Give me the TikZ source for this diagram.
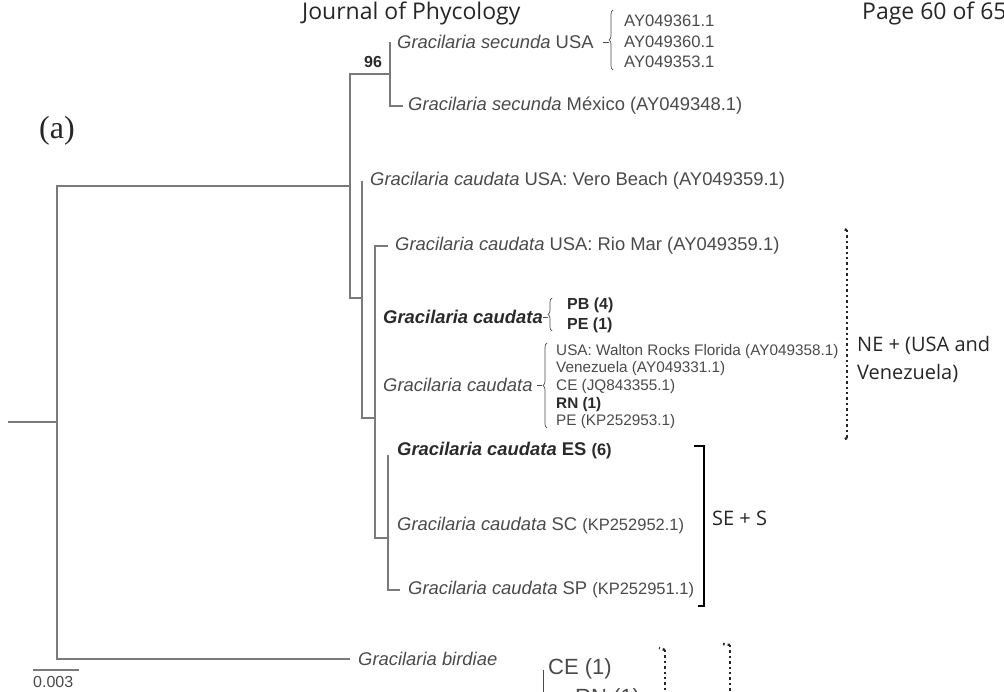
\documentclass[tikz,border=0pt]{standalone}
\usepackage{fontspec}
\setmainfont{Liberation Sans}
\newfontfamily\hdrfont{Open Sans}
\newfontfamily\serffont{Liberation Serif}
\usetikzlibrary{decorations.pathreplacing}
\definecolor{branch}{HTML}{7A7A7A}
\definecolor{labc}{HTML}{4A4A4A}
\definecolor{boldc}{HTML}{2A2A2A}
\begin{document}
\begin{tikzpicture}[x=1pt,y=-1pt,
  br/.style={draw=branch, line width=1.2pt},
  lab/.style={anchor=west, inner sep=0pt, text=labc, font=\fontsize{18.4}{20}\selectfont},
  acclab/.style={anchor=west, inner sep=0pt, text=labc, font=\fontsize{16.6}{18}\selectfont},
  smalllab/.style={anchor=west, inner sep=0pt, text=labc, font=\fontsize{15.3}{17}\selectfont},
  hdr/.style={anchor=base west, inner sep=0pt, text=black!85, font=\hdrfont\fontsize{23}{26}\selectfont},
  region/.style={anchor=west, inner sep=0pt, text=black!85, font=\hdrfont\fontsize{20}{28}\selectfont, align=left},
  brace/.style={draw=labc, line width=0.7pt, decorate, decoration={brace, amplitude=4pt}},
  dotb/.style={draw=black!85, line width=2.4pt, dash pattern=on 2.4pt off 3pt},
  solidb/.style={draw=black, line width=2pt}]
\useasboundingbox (0,0) rectangle (1004,692);
\clip (0,0) rectangle (1004,692);

% header
\node[hdr] (journal) at (302,20) {Journal of Phycology};
\node[hdr] (page) at (862,20) {Page 60 of 65};
\node[anchor=west, inner sep=0pt, font=\serffont\fontsize{32}{34}\selectfont, text=black!85] (pa) at (39,131) {(a)};

% internal nodes
\coordinate (stem) at (8,422);
\coordinate (root) at (57,422);
\coordinate (n1) at (350,186);
\coordinate (n96) at (390,74);
\coordinate (n2) at (362,298);
\coordinate (n3) at (375,418);
\coordinate (n4) at (388,538);
% tips
\coordinate (tsecUSA) at (390,42);
\coordinate (tsecMex) at (403,106);
\coordinate (tvero) at (362,181);
\coordinate (trio) at (388,246);
\coordinate (tpbpe) at (375,317);
\coordinate (tcau) at (375,385);
\coordinate (tes) at (388,455);
\coordinate (tsc) at (388,526);
\coordinate (tsp) at (400,590);
\coordinate (tbird) at (350,659);

% branches
\draw[br] (stem) -- (root);
\draw[br] (root) |- (n1);
\draw[br] (root) |- (tbird);
\draw[br] (n1) |- (n96);
\draw[br] (n1) |- (n2);
\draw[br] (n96) |- (tsecUSA);
\draw[br] (n96) |- (tsecMex);
\draw[br] (n2) |- (tvero);
\draw[br] (n2) |- (n3);
\draw[br] (n3) |- (trio);
\draw[br] (n3) |- (tpbpe);
\draw[br] (n3) |- (tcau);
\draw[br] (n3) |- (n4);
\draw[br] (n4) |- (tes);
\draw[br] (n4) |- (tsc);
\draw[br] (n4) |- (tsp);

\node[inner sep=0pt, text=boldc, font=\bfseries\fontsize{16}{17}\selectfont] (b96) at (373,62) {96};

% labels
\node[lab] (lsecUSA) at ([xshift=7pt]tsecUSA) {\textit{Gracilaria secunda} USA};
\node[lab] (lsecMex) at ([xshift=5pt]tsecMex) {\textit{Gracilaria secunda} México (AY049348.1)};
\node[lab] (lvero) at ([xshift=8pt]tvero) {\textit{Gracilaria caudata} USA: Vero Beach (AY049359.1)};
\node[lab] (lrio) at ([xshift=7pt]trio) {\textit{Gracilaria caudata} USA: Rio Mar (AY049359.1)};
\node[lab, text=boldc] (lpbpe) at ([xshift=8pt]tpbpe) {\textbf{\textit{Gracilaria caudata}}};
\node[lab] (lcau) at ([xshift=8pt]tcau) {\textit{Gracilaria caudata}};
\node[lab, text=boldc] (les) at ([xshift=9pt,yshift=4pt]tes) {\textbf{\textit{Gracilaria caudata} ES} {\fontsize{16.5}{18}\selectfont\textbf{(6)}}};
\node[lab] (lsc) at ([xshift=9pt]tsc) {\textit{Gracilaria caudata} SC {\fontsize{16.5}{18}\selectfont(KP252952.1)}};
\node[lab] (lsp) at ([xshift=8pt]tsp) {\textit{Gracilaria caudata} SP {\fontsize{16.5}{18}\selectfont(KP252951.1)}};
\node[lab] (lbird) at ([xshift=8pt]tbird) {\textit{Gracilaria birdiae}};

% secunda USA accessions
\coordinate (sdash) at (603,42);
\draw[draw=labc, line width=0.7pt] (sdash) -- ++(6,0);
\draw[brace] (613,70) -- (613,10);
\node[acclab] (acc1) at (624,21) {AY049361.1};
\node[acclab] (acc2) at (624,42) {AY049360.1};
\node[acclab] (acc3) at (624,62) {AY049353.1};

% PB/PE
\draw[draw=labc, line width=0.7pt] (543,317) -- ++(5,0);
\draw[brace] (552,331) -- (552,298);
\node[acclab, text=boldc, font=\bfseries\fontsize{16}{18}\selectfont] (pb) at (567,305) {PB (4)};
\node[acclab, text=boldc, font=\bfseries\fontsize{16}{18}\selectfont] (pe) at (567,325) {PE (1)};

% caudata list
\draw[draw=labc, line width=0.7pt] (537,385) -- ++(5,0);
\draw[brace] (547,428) -- (547,343);
\node[smalllab] (w1) at (556,352) {USA: Walton Rocks Florida (AY049358.1)};
\node[smalllab] (w2) at (556,369) {Venezuela (AY049331.1)};
\node[smalllab] (w3) at (556,387) {CE (JQ843355.1)};
\node[smalllab, text=boldc, font=\bfseries\fontsize{15.3}{17}\selectfont] (w4) at (556,405) {RN (1)};
\node[smalllab] (w5) at (556,422) {PE (KP252953.1)};

% NE bracket (dotted)
\coordinate (neT) at (847,230);
\coordinate (neB) at (847,438);
\draw[dotb] (neT) -- (neB);
\draw[dotb] (neT) -- ++(-5,-1);
\draw[dotb] (neB) -- ++(-4,2);
\node[region] (ne) at (857,359) {NE + (USA and\\Venezuela)};

% SE + S bracket
\coordinate (seT) at (704,446);
\coordinate (seB) at (704,606);
\draw[solidb] ([xshift=-10pt]seT) -- (seT) -- (seB) -- ([xshift=-6pt]seB);
\node[region] (se) at (712,518) {SE + S};

% scale bar
\coordinate (sb1) at (33,670);
\coordinate (sb2) at (79,670);
\draw[br] (sb1) -- (sb2);
\node[anchor=north west, inner sep=0pt, text=labc, font=\fontsize{16}{17}\selectfont] (sbl) at (33,676) {0.003};

% bottom partial panel
\node[anchor=base west, inner sep=0pt, text=labc, font=\fontsize{22}{24}\selectfont] (ce) at (548,674) {CE (1)};
\node[anchor=base west, inner sep=0pt, text=labc, font=\fontsize{22}{24}\selectfont] (rn) at (575,704) {RN (1)};
\coordinate (cl1) at (543,670);
\coordinate (cl2) at (543,700);
\draw[draw=labc, line width=0.8pt] (cl1) -- (cl2);
\coordinate (d1) at (665,650);
\draw[dotb] (d1) -- (665,700);
\draw[dotb] (d1) -- ++(-6,-2);
\coordinate (d2) at (730,645);
\draw[dotb] (d2) -- (730,700);
\draw[dotb] (d2) -- ++(-7,-1);
\end{tikzpicture}
\end{document}
